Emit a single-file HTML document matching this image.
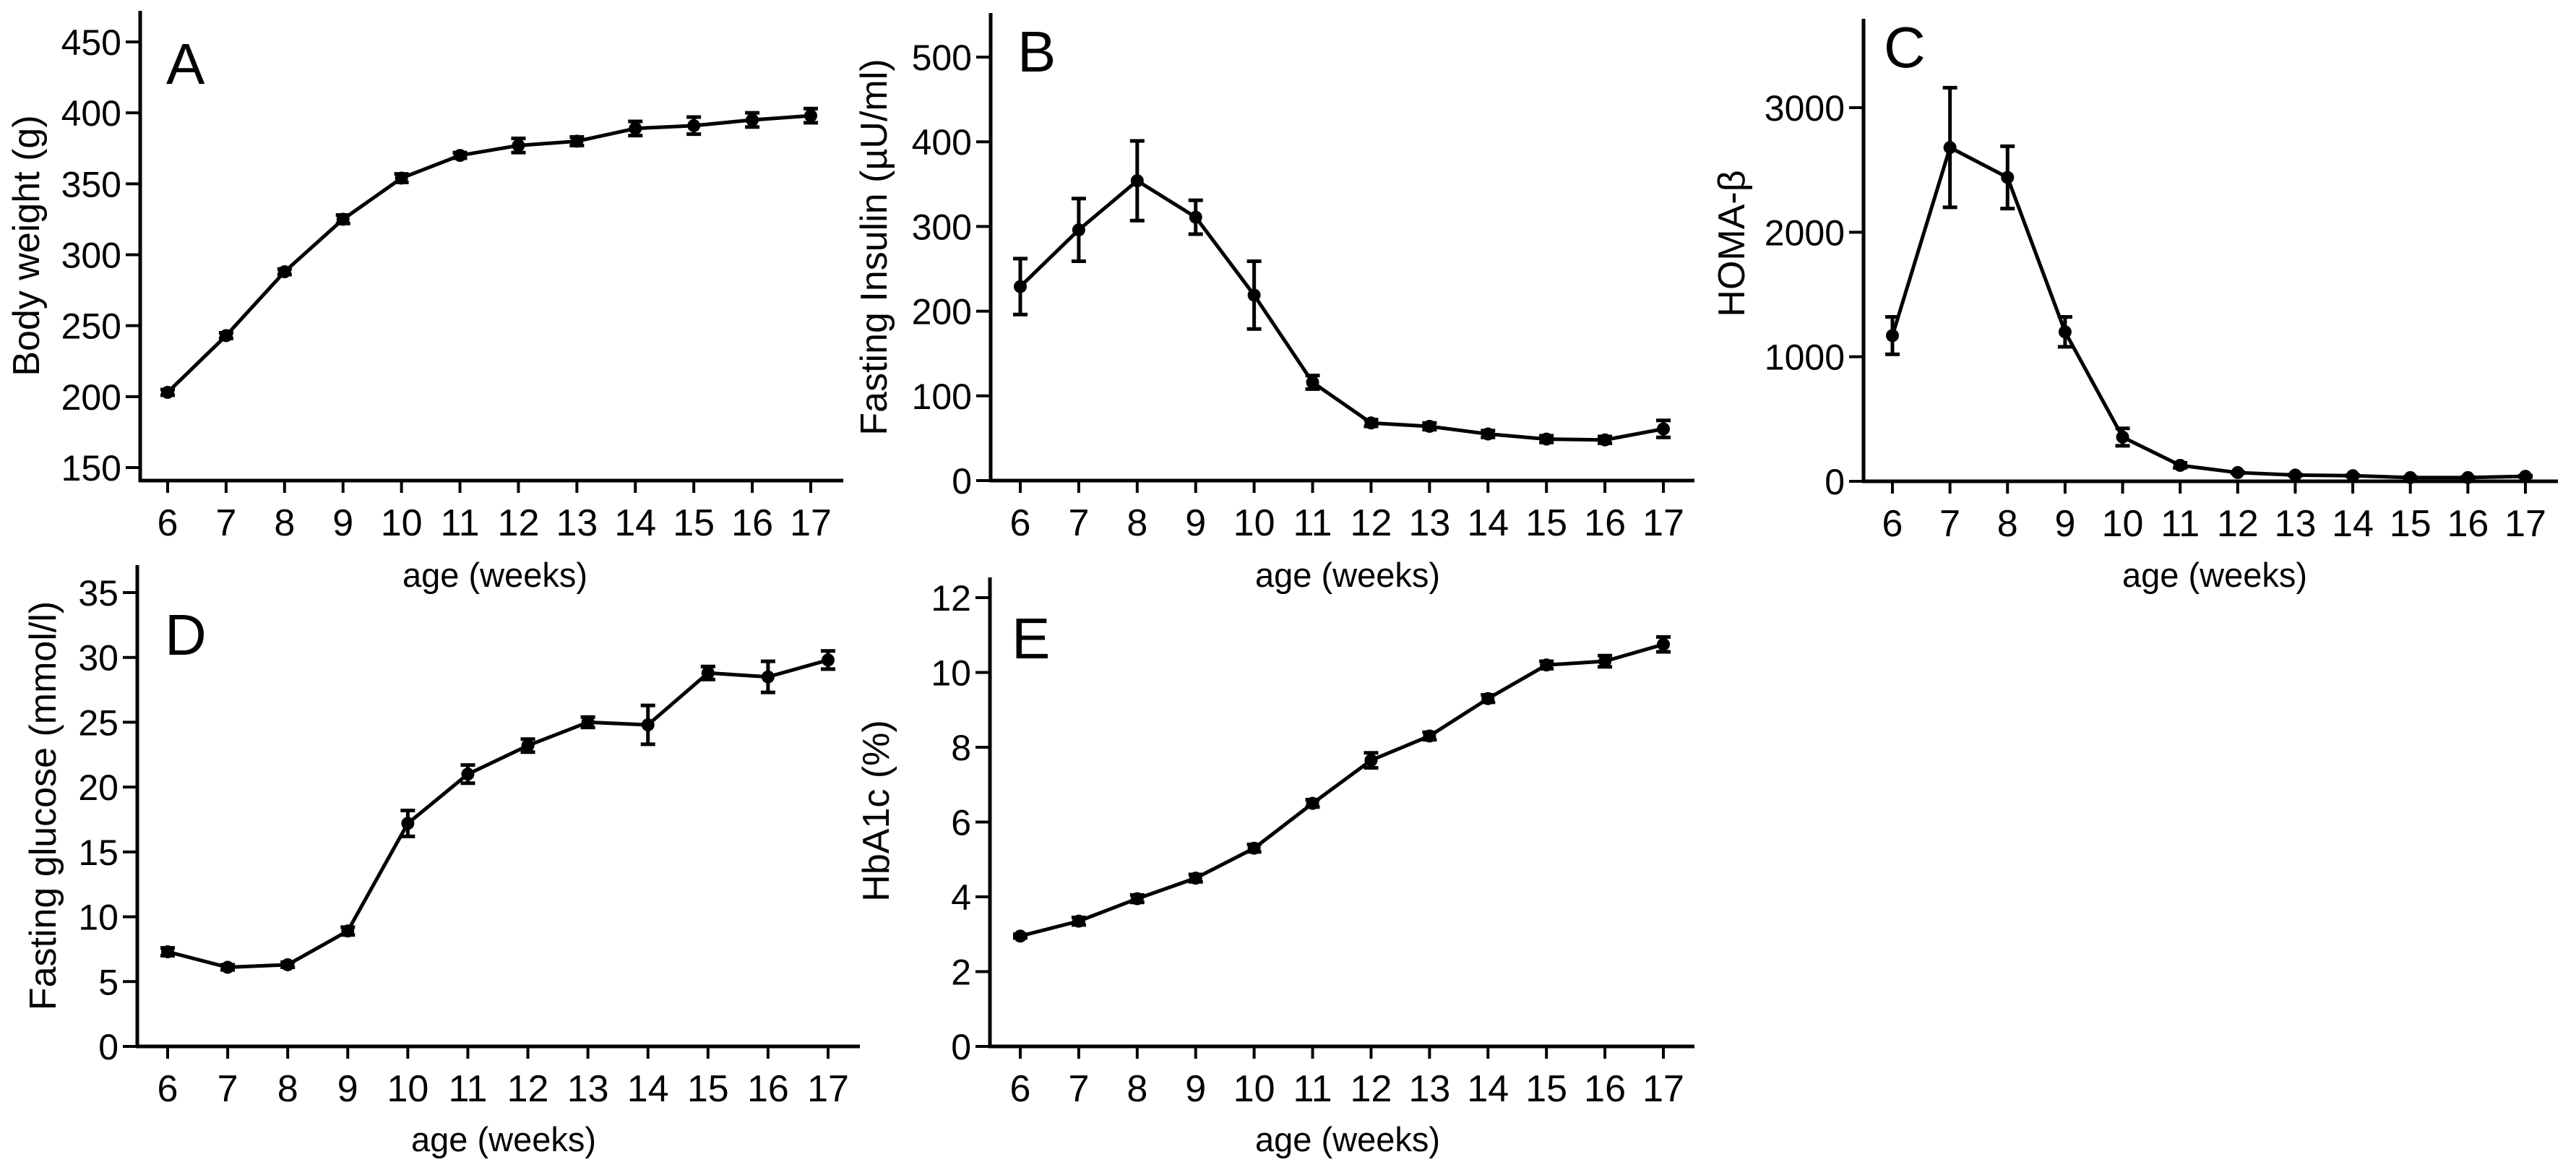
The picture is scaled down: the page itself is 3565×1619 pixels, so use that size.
<!DOCTYPE html>
<html><head><meta charset="utf-8"><style>
html,body{margin:0;padding:0;background:#fff;}
svg{display:block;font-family:"Liberation Sans",Arial,sans-serif;}
</style></head><body>
<svg id="fig" width="3565" height="1619" viewBox="0 0 3565 1619"></svg>
<script>
const weeks = [6,7,8,9,10,11,12,13,14,15,16,17];
const bodyWeight = [203,243,288,325,354,370,377,380,389,391,395,398];
const bodyWeightErr = [2,2,2,3,3,2,5,3,5,6,5,5];
const insulin = [229,296,354,311,219,116,68,64,55,49,48,61];
const insulinErr = [33,37,47,20,40,8,4,4,4,4,4,10];
const homa = [1170,2680,2440,1200,355,128,70,50,45,30,30,40];
const homaErr = [150,480,250,120,70,20,5,5,5,5,5,5];
const glucose = [7.3,6.1,6.3,8.9,17.2,21.0,23.2,25.0,24.8,28.8,28.5,29.8];
const glucoseErr = [0.3,0.2,0.2,0.3,1.0,0.7,0.5,0.4,1.5,0.5,1.2,0.7];
const hba1c = [2.95,3.35,3.95,4.5,5.3,6.5,7.65,8.3,9.3,10.2,10.3,10.75];
const hba1cErr = [0.05,0.1,0.1,0.1,0.1,0.1,0.2,0.1,0.1,0.1,0.15,0.2];
const ticksA = [150,200,250,300,350,400,450];
const ticksB = [0,100,200,300,400,500];
const ticksC = [0,1000,2000,3000];
const ticksD = [0,5,10,15,20,25,30,35];
const ticksE = [0,2,4,6,8,10,12];

const NS="http://www.w3.org/2000/svg";
const svg=document.getElementById('fig');
function mk(tag,attrs,parent,text){const e=document.createElementNS(NS,tag);for(const k in attrs)e.setAttribute(k,attrs[k]);if(text!==undefined)e.textContent=text;(parent||svg).appendChild(e);return e;}

const panels=[
 {id:'a',letter:'A',title:'Body weight (g)',vals:bodyWeight,errs:bodyWeightErr,ticks:ticksA,
  ax:194,ay:665,top:15,right:1167,x6:232,x17:1122,v0:150,y0:647,v1:450,y1:58,lx:230,ly:116,tx:54,ty:340,xt:812},
 {id:'b',letter:'B',title:'Fasting Insulin (µU/ml)',vals:insulin,errs:insulinErr,ticks:ticksB,
  ax:1371,ay:665,top:18,right:2345,x6:1412,x17:2302,v0:0,y0:665,v1:500,y1:79,lx:1408,ly:99,tx:1227,ty:342,xt:812},
 {id:'c',letter:'C',title:'HOMA-β',vals:homa,errs:homaErr,ticks:ticksC,
  ax:2579,ay:666,top:26,right:3540,x6:2619,x17:3495,v0:0,y0:666,v1:3000,y1:149,lx:2607,ly:93,tx:2414,ty:337,xt:812},
 {id:'d',letter:'D',title:'Fasting glucose (mmol/l)',vals:glucose,errs:glucoseErr,ticks:ticksD,
  ax:190,ay:1448,top:782,right:1190,x6:232,x17:1146,v0:0,y0:1448,v1:35,y1:820,lx:228,ly:906,tx:77,ty:1115,xt:1593},
 {id:'e',letter:'E',title:'HbA1c (%)',vals:hba1c,errs:hba1cErr,ticks:ticksE,
  ax:1370,ay:1448,top:799,right:2345,x6:1412,x17:2302,v0:0,y0:1448,v1:12,y1:827,lx:1400,ly:911,tx:1230,ty:1122,xt:1593}
];

panels.forEach(p=>{
  const g=mk('g',{});
  
  
  const X=w=>p.x6+(w-6)*(p.x17-p.x6)/11;
  const Y=v=>p.y0+(v-p.v0)*(p.y1-p.y0)/(p.v1-p.v0);
  // axes
  const ya=mk('line',{x1:p.ax,y1:p.top,x2:p.ax,y2:p.ay+2,stroke:'#000','stroke-width':5},g);
  
  
  const xa=mk('line',{x1:p.ax-2,y1:p.ay,x2:p.right,y2:p.ay,stroke:'#000','stroke-width':5},g);
  
  
  p.ticks.forEach(t=>{
    const y=Y(t);
    mk('line',{x1:p.ax-20,y1:y,x2:p.ax,y2:y,stroke:'#000','stroke-width':4},g);
    const tl=mk('text',{x:p.ax-26,y:y+18,'font-size':50,'text-anchor':'end'},g,String(t));
    
    
  });
  weeks.forEach(w=>{
    const x=X(w);
    mk('line',{x1:x,y1:p.ay,x2:x,y2:p.ay+17,stroke:'#000','stroke-width':4},g);
    const tl=mk('text',{x:x,y:p.ay+76,'font-size':52,'text-anchor':'middle'},g,String(w));
    
    
  });
  const xt=mk('text',{x:(p.x6+p.x17)/2+8,y:p.xt,'font-size':47,'text-anchor':'middle'},g,'age (weeks)');
  
  
  const yt=mk('text',{x:0,y:0,'font-size':52,'text-anchor':'middle',transform:`translate(${p.tx},${p.ty}) rotate(-90)`},g,p.title);
  
  
  const lt=mk('text',{x:p.lx,y:p.ly,'font-size':80},g,p.letter);
  
  
  // line
  const pts=weeks.map((w,i)=>X(w)+','+Y(p.vals[i])).join(' ');
  const pl=mk('polyline',{points:pts,fill:'none',stroke:'#000','stroke-width':5,'stroke-linejoin':'round'},g);
  
  
  weeks.forEach((w,i)=>{
    const x=X(w),yh=Y(p.vals[i]+p.errs[i]),yl=Y(p.vals[i]-p.errs[i]);
    const eb=mk('path',{d:`M${x},${yh}V${yl}M${x-10},${yh}H${x+10}M${x-10},${yl}H${x+10}`,stroke:'#000','stroke-width':5,fill:'none'},g);
    
    
    const c=mk('circle',{cx:x,cy:Y(p.vals[i]),r:9,fill:'#000'},g);
    
    
  });
});
</script>
</body></html>
